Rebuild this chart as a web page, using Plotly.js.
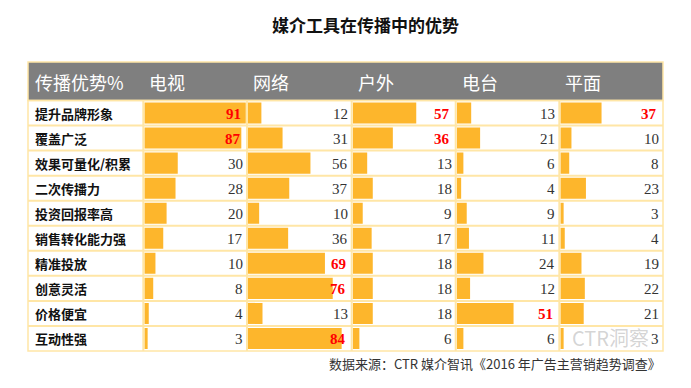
<!DOCTYPE html>
<html>
<head>
<meta charset="utf-8">
<script src="https://cdn.plot.ly/plotly-3.0.1.min.js"></script>
<style>html,body{margin:0;padding:0;background:#fff;}#chart{width:691px;height:388px;}</style>
</head>
<body>
<div id="chart"></div>
<script>
// ---- data ----
const title = "媒介工具在传播中的优势";
const cornerLabel = "传播优势%";
const media = ["电视", "网络", "户外", "电台", "平面"];
const advantages = ["提升品牌形象", "覆盖广泛", "效果可量化/积累", "二次传播力", "投资回报率高",
  "销售转化能力强", "精准投放", "创意灵活", "价格便宜", "互动性强"];
const tvValues      = [91, 87, 30, 28, 20, 17, 10, 8, 4, 3];
const webValues     = [12, 31, 56, 37, 10, 36, 69, 76, 13, 84];
const outdoorValues = [57, 36, 13, 18, 9, 17, 18, 18, 18, 6];
const radioValues   = [13, 21, 6, 4, 9, 11, 24, 12, 51, 6];
const printValues   = [37, 10, 8, 23, 3, 4, 19, 22, 21, 3];
// highlighted (red) values per medium
const tvHighlight      = [91, 87];
const webHighlight     = [69, 76, 84];
const outdoorHighlight = [57, 36];
const radioHighlight   = [51];
const printHighlight   = [37];
const sourceNote = "数据来源：CTR 媒介智讯《2016 年广告主营销趋势调查》";
const watermark = "CTR洞察";

const series = [tvValues, webValues, outdoorValues, radioValues, printValues];
const highlights = [tvHighlight, webHighlight, outdoorHighlight, radioHighlight, printHighlight];

// ---- layout geometry (pixels) ----
const W = 691, H = 388;
const px = v => v / W;
const py = v => 1 - v / H;
const tableL = 28, tableR = 663, tableT = 62, headB = 100.5, tableB = 351;
const seps = [143.3, 247, 351.7, 455.7, 559.3, 663];
const pxPerUnit = 1.115;
const barColor = "#FDB62C";
const gridColor = "#FFE6A6";

const traces = [];
const layout = {
  width: W, height: H,
  margin: {l: 0, r: 0, t: 0, b: 0},
  paper_bgcolor: "#fff", plot_bgcolor: "rgba(0,0,0,0)",
  showlegend: false,
  bargap: 0.16,
  yaxis: {
    domain: [py(tableB), py(headB)],
    type: "category",
    categoryorder: "array", categoryarray: advantages,
    range: [advantages.length - 0.5, -0.5],
    showgrid: false, zeroline: false, showticklabels: false, showline: false, ticks: "",
    fixedrange: true, anchor: "x"
  },
  shapes: [], annotations: []
};

// header background
layout.shapes.push({type: "rect", xref: "paper", yref: "paper",
  x0: px(tableL), x1: px(tableR), y0: py(headB), y1: py(tableT),
  fillcolor: "#7F7F7F", line: {color: gridColor, width: 1.5}, layer: "below"});
// table outer border
layout.shapes.push({type: "rect", xref: "paper", yref: "paper",
  x0: px(tableL), x1: px(tableR), y0: py(tableB), y1: py(headB),
  fillcolor: "rgba(0,0,0,0)", line: {color: gridColor, width: 1.5}, layer: "above"});
// row separators
for (let i = 1; i < advantages.length; i++) {
  layout.shapes.push({type: "line", xref: "paper", yref: "y",
    x0: px(tableL), x1: px(tableR), y0: i - 0.5, y1: i - 0.5,
    line: {color: gridColor, width: 2}, layer: "above"});
}
// column separators
seps.slice(0, 5).forEach(s => {
  layout.shapes.push({type: "line", xref: "paper", yref: "paper",
    x0: px(s), x1: px(s), y0: py(tableB), y1: py(headB),
    line: {color: gridColor, width: 2}, layer: "above"});
});

media.forEach((m, k) => {
  const axName = k === 0 ? "xaxis" : "xaxis" + (k + 1);
  const axRef = k === 0 ? "x" : "x" + (k + 1);
  const left = seps[k] + 1, right = seps[k + 1];
  layout[axName] = {
    domain: [px(left), px(right)],
    range: [0, (right - left) / pxPerUnit],
    showgrid: false, zeroline: false, showticklabels: false, showline: false, ticks: "",
    fixedrange: true, anchor: "y"
  };
  traces.push({
    type: "bar", orientation: "h",
    x: series[k], y: advantages,
    xaxis: axRef, yaxis: "y",
    marker: {color: barColor, line: {width: 0}},
    hoverinfo: "x+y"
  });
  // header label
  layout.annotations.push({
    xref: "paper", yref: "paper", x: px(seps[k] + 4), y: py(82),
    xanchor: "left", yanchor: "middle", showarrow: false,
    text: m, font: {family: "Noto Sans CJK SC", size: 18, color: "#fff"}
  });
  // values
  series[k].forEach((v, i) => {
    const hot = highlights[k].includes(v);
    layout.annotations.push({
      xref: axRef + " domain", yref: "y", x: 1, y: advantages[i],
      xanchor: "right", yanchor: "middle", showarrow: false,
      xshift: hot ? -4 : -2, yshift: -1,
      text: hot ? "<b>" + v + "</b>" : String(v),
      font: hot ? {family: "Liberation Serif", size: 15, color: "#FF0000"}
                : {family: "Liberation Serif", size: 15, color: "#333"}
    });
  });
});

// corner header label
layout.annotations.push({
  xref: "paper", yref: "paper", x: px(33), y: py(82),
  xanchor: "left", yanchor: "middle", showarrow: false,
  text: cornerLabel, font: {family: "Noto Sans CJK SC", size: 18, color: "#fff"}
});
// row labels
advantages.forEach(a => {
  layout.annotations.push({
    xref: "paper", yref: "y", x: px(33), y: a,
    xanchor: "left", yanchor: "middle", showarrow: false,
    text: "<b>" + a + "</b>", font: {family: "Noto Sans CJK SC", size: 13, color: "#111"}
  });
});
// title
layout.annotations.push({
  xref: "paper", yref: "paper", x: px(365), y: py(25),
  xanchor: "center", yanchor: "middle", showarrow: false,
  text: "<b>" + title + "</b>", font: {family: "Noto Sans CJK SC", size: 17, color: "#111"}
});
// source
layout.annotations.push({
  xref: "paper", yref: "paper", x: px(663), y: py(363),
  xanchor: "right", yanchor: "middle", showarrow: false,
  text: sourceNote, font: {family: "Noto Sans CJK SC", size: 13, color: "#333"}
});
// watermark
layout.annotations.push({
  xref: "paper", yref: "paper", x: px(570), y: py(337),
  xanchor: "left", yanchor: "middle", showarrow: false,
  text: watermark, font: {family: "Noto Sans CJK SC", size: 20, color: "rgba(160,160,160,0.45)"}
});

Plotly.newPlot("chart", traces, layout, {displayModeBar: false, staticPlot: true});
</script>
</body>
</html>
